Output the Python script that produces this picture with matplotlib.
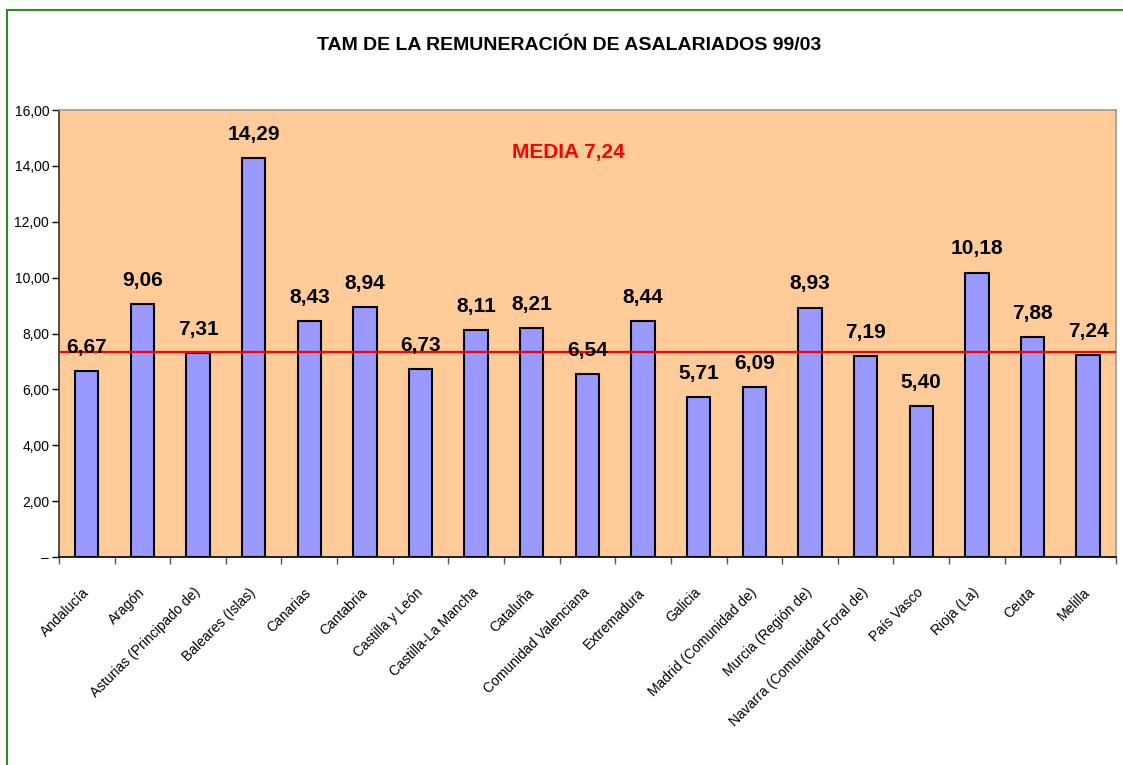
import matplotlib
matplotlib.use("Agg")
import matplotlib.pyplot as plt
from matplotlib import font_manager
from matplotlib.lines import Line2D
import numpy as np

# datos
regiones = ["Andalucía", "Aragón", "Asturias (Principado de)", "Baleares (Islas)",
            "Canarias", "Cantabria", "Castilla y León", "Castilla-La Mancha",
            "Cataluña", "Comunidad Valenciana", "Extremadura", "Galicia",
            "Madrid (Comunidad de)", "Murcia (Región de)",
            "Navarra (Comunidad Foral de)", "País Vasco", "Rioja (La)",
            "Ceuta", "Melilla"]
tam = [6.67, 9.06, 7.31, 14.29, 8.43, 8.94, 6.73, 8.11, 8.21, 6.54,
       8.44, 5.71, 6.09, 8.93, 7.19, 5.40, 10.18, 7.88, 7.24]
media = 7.24
media_linea = 7.33  # posición de la línea roja
y_ticks = [0, 2, 4, 6, 8, 10, 12, 14, 16]
titulo = "TAM DE LA REMUNERACIÓN DE ASALARIADOS 99/03"

# fuente estrecha si existe (el original es Arial muy apretado)
instaladas = {f.name for f in font_manager.fontManager.ttflist}
if "Liberation Sans Narrow" in instaladas:
    FUENTE = ["Liberation Sans Narrow", "Liberation Sans", "DejaVu Sans"]
    k = 1.12
else:
    FUENTE = ["Liberation Sans", "DejaVu Sans"]
    k = 1.0
plt.rcParams["font.family"] = FUENTE


def fmt(v):
    return ("%.2f" % v).replace(".", ",")


def main():
    fig = plt.figure(figsize=(11.23, 7.65), dpi=100)
    ax = fig.add_axes([0.0525, 0.2719, 0.9412, 0.5843])
    ax.set_facecolor("#FFCC99")

    n = len(regiones)
    x = np.arange(n)
    ax.bar(x, tam, width=0.42, color="#9999FF", edgecolor="black", linewidth=1.5, zorder=2)

    for xi, v in zip(x, tam):
        ax.annotate(fmt(v), (xi, v), xytext=(0, 17), textcoords="offset points",
                    ha="center", va="center", fontsize=15 * k, fontweight="bold", zorder=4)

    ax.axhline(media_linea, color="red", linewidth=1.6, zorder=3)
    ax.text(0.482, 0.905, "MEDIA " + fmt(media), transform=ax.transAxes, color="red",
            fontsize=15 * k, fontweight="bold", ha="center", va="center")

    ax.set_xlim(-0.5, n - 0.5)
    ax.set_ylim(0, 16)
    ax.set_yticks(y_ticks)
    ax.set_yticklabels(["–"] + [fmt(t) for t in y_ticks[1:]], fontsize=10 * k)
    ax.tick_params(axis="y", length=5, width=1, pad=2)

    # ticks entre categorías, etiquetas centradas
    ax.set_xticks(np.arange(n + 1) - 0.5)
    ax.set_xticklabels([])
    ax.tick_params(axis="x", which="major", length=5, width=1, color="#555555")
    ax.set_xticks(x, minor=True)
    ax.set_xticklabels(regiones, minor=True, rotation=45, ha="right", va="center",
                       rotation_mode="anchor", fontsize=10 * k)
    ax.tick_params(axis="x", which="minor", length=0, pad=24)

    ax.spines["top"].set_color("#999999")
    ax.spines["right"].set_color("#999999")
    ax.spines["left"].set_color("#333333")
    ax.spines["bottom"].set_color("black")
    for s in ax.spines.values():
        s.set_linewidth(1.2)

    fig.text(0.507, 0.941, titulo, ha="center", va="center", fontsize=14 * k, fontweight="bold")

    # marco verde
    fig.add_artist(Line2D([7 / 1123, 1], [1 - 10 / 765, 1 - 10 / 765],
                          transform=fig.transFigure, color="#2E8B22", linewidth=1.5))
    fig.add_artist(Line2D([7 / 1123, 7 / 1123], [0, 1 - 10 / 765],
                          transform=fig.transFigure, color="#2E8B22", linewidth=1.5))

    fig.savefig("out.png", dpi=100, facecolor="white")


if __name__ == '__main__':
    main()
